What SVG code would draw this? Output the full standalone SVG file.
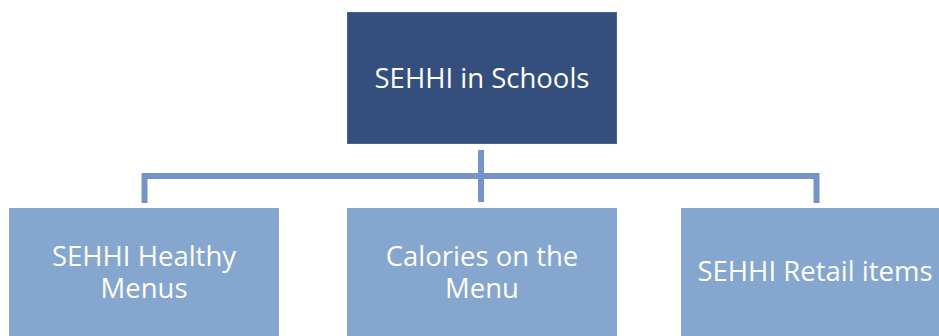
<svg xmlns="http://www.w3.org/2000/svg" width="939" height="336" viewBox="0 0 939 336">
<style>
.top{fill:#344e7e;stroke:#4a6494;stroke-width:1}
.box{fill:#84a6cf}
.lbl{font-family:"Open Sans","Noto Sans",sans-serif;font-size:27.5px;fill:#ffffff;text-anchor:middle}
.con{fill:none;stroke:#7494c5;stroke-width:6}
</style>
<rect width="939" height="336" fill="#ffffff"/>
<g id="connectors">
<path class="con" d="M481 150V202"/>
<path class="con" d="M144.5 203V176H816.5V203"/>
</g>
<g id="root">
<rect class="top" x="347.5" y="12.5" width="269" height="131"/>
<text class="lbl" x="482" y="88">SEHHI in Schools</text>
</g>
<g id="n1">
<rect class="box" x="9" y="208" width="270" height="128"/>
<text class="lbl" x="144" y="266">SEHHI Healthy</text>
<text class="lbl" x="144" y="298">Menus</text>
</g>
<g id="n2">
<rect class="box" x="347" y="208" width="270" height="128"/>
<text class="lbl" x="482" y="266">Calories on the</text>
<text class="lbl" x="482" y="298">Menu</text>
</g>
<g id="n3">
<rect class="box" x="681" y="208" width="258" height="128"/>
<text class="lbl" x="815" y="281">SEHHI Retail items</text>
</g>
</svg>
